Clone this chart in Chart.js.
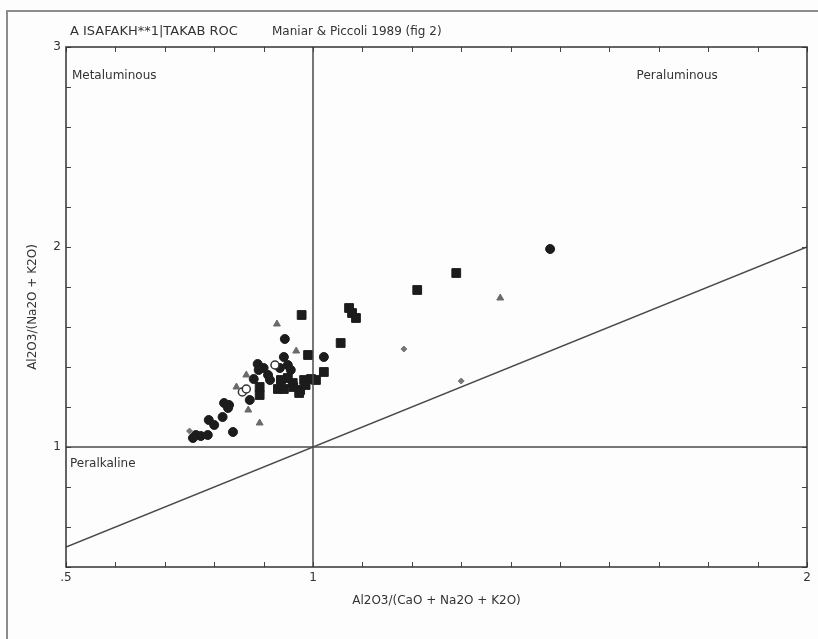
<!DOCTYPE html>
<html lang="en">
<head>
    <title>Shand index plot</title>
    <script src="https://cdn.jsdelivr.net/npm/chart.js"></script>
    <style>
        body { margin: 0; background: #fdfdfd; overflow: hidden; }
        .frame { position: absolute; left: 6px; top: 10px; width: 1200px; height: 1200px; border: 2px solid #8c8c8c; }
        canvas { position: absolute; left: 0; top: 0; }
    </style>
</head>
<body>
    <div class="frame"></div>
    <canvas id="shand" width="818" height="639"></canvas>

    <script>
        // axis labels / tick labels
        const xTickLabels = { 0.5: '.5', 1: '1', 2: '2' };
        const yTickLabels = { 1: '1', 2: '2', 3: '3' };

        // filled squares
        const sqX = [0.977, 1.056, 0.99, 1.022, 1.211, 1.29, 1.073, 1.079, 1.087, 0.892, 0.892, 0.929, 0.941, 0.959, 0.974, 0.982, 0.996, 1.006, 0.972, 0.949, 0.935, 0.96, 0.985];
        const sqY = [1.66, 1.52, 1.46, 1.375, 1.785, 1.87, 1.695, 1.67, 1.645, 1.30, 1.26, 1.29, 1.29, 1.32, 1.285, 1.335, 1.34, 1.335, 1.27, 1.345, 1.335, 1.30, 1.31];

        // filled circles
        const ciX = [1.48, 0.943, 1.022, 0.941, 0.888, 0.89, 0.90, 0.909, 0.88, 0.913, 0.933, 0.949, 0.955, 0.872, 0.82, 0.83, 0.828, 0.838, 0.763, 0.773, 0.787, 0.757, 0.789, 0.817, 0.80];
        const ciY = [1.99, 1.54, 1.45, 1.45, 1.415, 1.385, 1.395, 1.36, 1.34, 1.335, 1.395, 1.41, 1.385, 1.235, 1.22, 1.21, 1.195, 1.075, 1.06, 1.055, 1.06, 1.045, 1.135, 1.15, 1.11];

        // triangles
        const trX = [0.927, 0.966, 1.379, 0.865, 0.869, 0.892, 0.845];
        const trY = [1.615, 1.48, 1.745, 1.36, 1.185, 1.12, 1.30];

        // open circles
        const ocX = [0.923, 0.857, 0.865];
        const ocY = [1.41, 1.275, 1.29];

        // small marks
        const smX = [1.184, 1.30, 0.75];
        const smY = [1.49, 1.33, 1.08];

        // reference lines
        const vLine = [{ x: 1, y: 0.4 }, { x: 1, y: 3 }];
        const hLine = [{ x: 0.5, y: 1 }, { x: 2, y: 1 }];
        const diag = [{ x: 0.5, y: 0.5 }, { x: 2, y: 2 }];

        const pts = (xs, ys) => xs.map((x, i) => ({ x: x, y: ys[i] }));

        const fam = '"DejaVu Sans", Verdana, sans-serif';
        const labelFont = '12px ' + fam;

        // inward tick marks on all four sides + text labels
        const decor = {
            id: 'decor',
            afterDraw(chart) {
                const ctx = chart.ctx;
                const a = chart.chartArea;
                const sx = chart.scales.x, sy = chart.scales.y;
                ctx.save();
                ctx.strokeStyle = '#444';
                ctx.lineWidth = 1;
                ctx.beginPath();
                sx.ticks.forEach(t => {
                    const p = Math.round(sx.getPixelForValue(t.value)) + 0.5;
                    ctx.moveTo(p, a.bottom); ctx.lineTo(p, a.bottom - 5);
                    ctx.moveTo(p, a.top); ctx.lineTo(p, a.top + 5);
                });
                sy.ticks.forEach(t => {
                    const p = Math.round(sy.getPixelForValue(t.value)) + 0.5;
                    ctx.moveTo(a.left, p); ctx.lineTo(a.left + 5, p);
                    ctx.moveTo(a.right, p); ctx.lineTo(a.right - 5, p);
                });
                ctx.stroke();
                ctx.strokeStyle = '#333';
                ctx.lineWidth = 1.5;
                ctx.strokeRect(a.left, a.top, a.right - a.left, a.bottom - a.top);

                ctx.fillStyle = '#333';
                ctx.textBaseline = 'middle';
                ctx.textAlign = 'left';
                ctx.font = '13px ' + fam;
                ctx.fillText('A ISAFAKH**1|TAKAB ROC', a.left + 4, a.top - 15);
                ctx.font = labelFont;
                ctx.fillText('Maniar & Piccoli 1989 (fig 2)', a.left + 206, a.top - 15);
                ctx.fillText('Metaluminous', sx.getPixelForValue(0.512), sy.getPixelForValue(2.855));
                ctx.fillText('Peraluminous', sx.getPixelForValue(1.655), sy.getPixelForValue(2.855));
                ctx.fillText('Peralkaline', sx.getPixelForValue(0.508), sy.getPixelForValue(0.915));
                ctx.restore();
            }
        };

        const lineStyle = {
            showLine: true,
            pointRadius: 0,
            borderColor: '#4a4a4a',
            borderWidth: 1.5,
            fill: false
        };

        new Chart(document.getElementById('shand'), {
            type: 'scatter',
            data: {
                datasets: [
                    { data: vLine, ...lineStyle },
                    { data: hLine, ...lineStyle },
                    { data: diag, ...lineStyle },
                    {
                        data: pts(trX, trY),
                        pointStyle: 'triangle',
                        pointRadius: 4,
                        backgroundColor: '#6a6a6a',
                        borderColor: '#6a6a6a',
                        borderWidth: 1
                    },
                    {
                        data: pts(smX, smY),
                        pointStyle: 'rectRot',
                        pointRadius: 3,
                        backgroundColor: '#777',
                        borderColor: '#777',
                        borderWidth: 1
                    },
                    {
                        data: pts(ocX, ocY),
                        pointStyle: 'circle',
                        pointRadius: 4,
                        backgroundColor: '#fff',
                        borderColor: '#333',
                        borderWidth: 1.5
                    },
                    {
                        data: pts(ciX, ciY),
                        pointStyle: 'circle',
                        pointRadius: 4.5,
                        backgroundColor: '#1c1c1c',
                        borderColor: '#1c1c1c',
                        borderWidth: 1
                    },
                    {
                        data: pts(sqX, sqY),
                        pointStyle: 'rect',
                        pointRadius: 6.2,
                        backgroundColor: '#1c1c1c',
                        borderColor: '#1c1c1c',
                        borderWidth: 1
                    }
                ]
            },
            options: {
                responsive: false,
                animation: false,
                devicePixelRatio: 1,
                layout: { padding: { top: 47, right: 11, left: 0, bottom: 0 } },
                plugins: {
                    legend: { display: false },
                    tooltip: { enabled: false }
                },
                scales: {
                    x: {
                        type: 'linear',
                        min: 0.5,
                        max: 2,
                        afterFit: s => { s.height = 72; },
                        ticks: {
                            stepSize: 0.1,
                            autoSkip: false,
                            maxRotation: 0,
                            padding: 4,
                            color: '#333',
                            font: { size: 12, family: fam },
                            callback: v => {
                                for (const k in xTickLabels) if (Math.abs(v - k) < 1e-6) return xTickLabels[k];
                                return '';
                            }
                        },
                        grid: { display: false, drawTicks: false },
                        border: { display: false },
                        title: {
                            display: true,
                            text: 'Al2O3/(CaO + Na2O + K2O)',
                            color: '#333',
                            font: { size: 12, family: fam },
                            padding: { top: 0, bottom: 31 }
                        }
                    },
                    y: {
                        type: 'linear',
                        min: 0.4,
                        max: 3,
                        afterFit: s => { s.width = 66; },
                        ticks: {
                            stepSize: 0.2,
                            autoSkip: false,
                            padding: 5,
                            color: '#333',
                            font: { size: 12, family: fam },
                            callback: v => {
                                for (const k in yTickLabels) if (Math.abs(v - k) < 1e-6) return yTickLabels[k];
                                return '';
                            }
                        },
                        grid: { display: false, drawTicks: false },
                        border: { display: false },
                        title: {
                            display: true,
                            text: 'Al2O3/(Na2O + K2O)',
                            color: '#333',
                            font: { size: 12, family: fam },
                            padding: { top: 26, bottom: 0 }
                        }
                    }
                }
            },
            plugins: [decor]
        });
    </script>
</body>
</html>
